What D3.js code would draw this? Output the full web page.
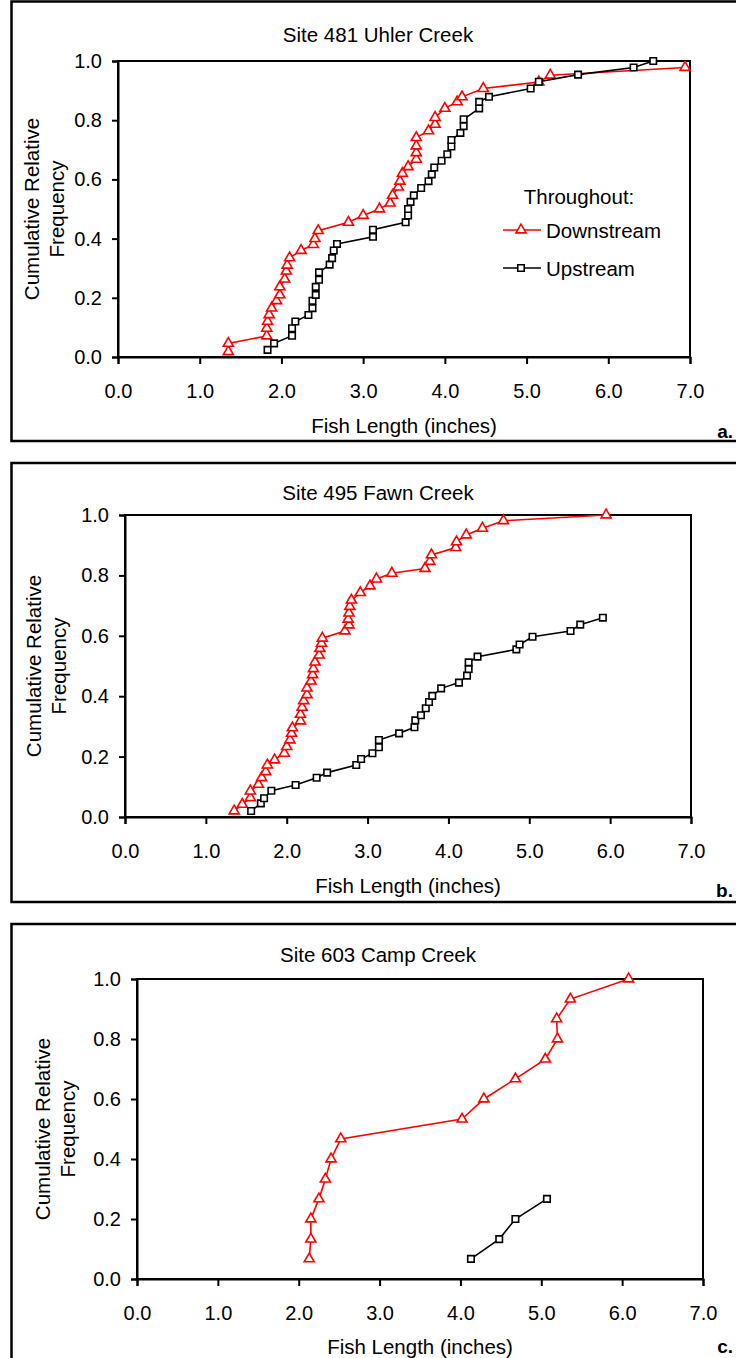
<!DOCTYPE html>
<html>
<head>
<meta charset="utf-8">
<script src="https://cdnjs.cloudflare.com/ajax/libs/d3/7.8.5/d3.min.js"></script>
<style>
body { margin: 0; background: #fff; }
text { font-family: "Liberation Sans", Arial, sans-serif; fill: #000; }
</style>
</head>
<body>
<div id="chart"></div>
<script>
// axis ticks and labels
var ticksX = [0, 1, 2, 3, 4, 5, 6, 7];
var ticksY = [0, 0.2, 0.4, 0.6, 0.8, 1.0];
var siteNames = ["Site 481 Uhler Creek", "Site 495 Fawn Creek", "Site 603 Camp Creek"];
var panelLetters = ["a.", "b.", "c."];
var seriesNames = ["Downstream", "Upstream"];
var legendTitle = "Throughout:";

// Site 481 Uhler Creek
var uhlerDownLength = [1.35, 1.35, 1.82, 1.82, 1.83, 1.85, 1.88, 1.94, 1.98, 1.98, 2.04, 2.06, 2.07, 2.1, 2.24, 2.39, 2.41, 2.45, 2.82, 3.0, 3.2, 3.33, 3.36, 3.43, 3.45, 3.48, 3.55, 3.65, 3.65, 3.65, 3.65, 3.8, 3.88, 3.88, 4.0, 4.15, 4.21, 4.47, 5.15, 5.29, 6.94];
var uhlerDownFreq = [0.018, 0.046, 0.071, 0.097, 0.12, 0.143, 0.165, 0.19, 0.21, 0.237, 0.263, 0.29, 0.31, 0.335, 0.36, 0.38, 0.4, 0.427, 0.455, 0.478, 0.5, 0.52, 0.546, 0.574, 0.594, 0.62, 0.643, 0.668, 0.69, 0.713, 0.741, 0.764, 0.786, 0.809, 0.84, 0.862, 0.879, 0.907, 0.929, 0.952, 0.978];
var uhlerUpLength = [1.83, 1.91, 2.13, 2.13, 2.17, 2.33, 2.38, 2.38, 2.42, 2.42, 2.46, 2.46, 2.59, 2.62, 2.64, 2.68, 3.12, 3.12, 3.52, 3.55, 3.55, 3.58, 3.62, 3.71, 3.8, 3.84, 3.87, 3.96, 4.03, 4.08, 4.08, 4.19, 4.23, 4.23, 4.42, 4.42, 4.54, 5.05, 5.15, 5.63, 6.31, 6.55];
var uhlerUpFreq = [0.024, 0.046, 0.072, 0.097, 0.12, 0.142, 0.165, 0.19, 0.21, 0.237, 0.261, 0.286, 0.312, 0.334, 0.36, 0.382, 0.406, 0.43, 0.455, 0.478, 0.5, 0.524, 0.546, 0.571, 0.594, 0.617, 0.64, 0.663, 0.685, 0.711, 0.733, 0.757, 0.78, 0.803, 0.84, 0.862, 0.879, 0.907, 0.93, 0.954, 0.978, 1.0];

// Site 495 Fawn Creek
var fawnDownLength = [1.35, 1.45, 1.55, 1.55, 1.65, 1.69, 1.74, 1.76, 1.85, 1.97, 2.0, 2.04, 2.06, 2.07, 2.17, 2.17, 2.19, 2.21, 2.25, 2.25, 2.3, 2.32, 2.33, 2.35, 2.4, 2.41, 2.43, 2.44, 2.72, 2.77, 2.76, 2.77, 2.78, 2.8, 2.91, 3.03, 3.11, 3.3, 3.71, 3.77, 3.79, 4.09, 4.1, 4.22, 4.42, 4.68, 5.95];
var fawnDownFreq = [0.02, 0.042, 0.064, 0.086, 0.108, 0.13, 0.15, 0.172, 0.189, 0.211, 0.233, 0.255, 0.277, 0.295, 0.318, 0.34, 0.363, 0.385, 0.405, 0.427, 0.45, 0.471, 0.491, 0.513, 0.536, 0.558, 0.575, 0.592, 0.616, 0.636, 0.655, 0.675, 0.697, 0.718, 0.743, 0.765, 0.788, 0.807, 0.823, 0.846, 0.868, 0.892, 0.911, 0.934, 0.956, 0.981, 1.0];
var fawnUpLength = [1.56, 1.68, 1.72, 1.81, 2.11, 2.37, 2.5, 2.86, 2.92, 3.06, 3.14, 3.14, 3.39, 3.58, 3.59, 3.66, 3.72, 3.76, 3.8, 3.91, 4.13, 4.23, 4.25, 4.25, 4.36, 4.84, 4.88, 5.04, 5.51, 5.63, 5.91];
var fawnUpFreq = [0.02, 0.045, 0.062, 0.087, 0.106, 0.13, 0.147, 0.172, 0.192, 0.211, 0.231, 0.255, 0.277, 0.297, 0.32, 0.337, 0.36, 0.381, 0.401, 0.426, 0.445, 0.468, 0.49, 0.512, 0.531, 0.555, 0.571, 0.597, 0.616, 0.637, 0.66];

// Site 603 Camp Creek
var campDownLength = [2.13, 2.15, 2.15, 2.25, 2.33, 2.4, 2.52, 4.02, 4.29, 4.68, 5.05, 5.2, 5.19, 5.36, 6.08];
var campDownFreq = [0.067, 0.133, 0.2, 0.267, 0.333, 0.4, 0.467, 0.533, 0.6, 0.667, 0.733, 0.8, 0.867, 0.933, 1.0];
var campUpLength = [4.13, 4.48, 4.68, 5.07];
var campUpFreq = [0.067, 0.133, 0.2, 0.267];

var colors = { down: "#ff0000", up: "#000000" };

function toPoints(lengths, freqs) {
    return lengths.map(function (d, i) { return { x: d, y: freqs[i] }; });
}

function drawPanel(svg, p) {
    var x = d3.scaleLinear().domain([0, 7]).range([p.left, p.right]);
    var y = d3.scaleLinear().domain([0, 1]).range([p.bottom, p.top]);

    // outer panel frame (right side runs off the page)
    svg.append("rect")
        .attr("x", 11.5).attr("y", p.boxTop)
        .attr("width", 760).attr("height", p.boxBottom - p.boxTop)
        .attr("fill", "none").attr("stroke", "#000").attr("stroke-width", 2.5);

    svg.append("text")
        .attr("x", 378).attr("y", p.titleY)
        .attr("text-anchor", "middle").attr("dominant-baseline", "central")
        .style("font-size", "20.5px")
        .text(p.title);

    // plot area border
    svg.append("rect")
        .attr("x", p.left).attr("y", p.top)
        .attr("width", p.right - p.left).attr("height", p.bottom - p.top)
        .attr("fill", "none").attr("stroke", "#000").attr("stroke-width", 2);

    var xAxis = svg.append("g")
        .attr("transform", "translate(0," + p.bottom + ")")
        .call(d3.axisBottom(x).tickValues(ticksX).tickSize(7).tickPadding(20).tickFormat(d3.format(".1f")));
    var yAxis = svg.append("g")
        .attr("transform", "translate(" + p.left + ",0)")
        .call(d3.axisLeft(y).tickValues(ticksY).tickSize(6).tickPadding(10).tickFormat(d3.format(".1f")));
    [xAxis, yAxis].forEach(function (g) {
        g.select(".domain").attr("stroke-width", 2);
        g.selectAll(".tick line").attr("stroke-width", 2);
        g.selectAll("text").style("font-size", "20px").attr("font-family", null);
    });

    svg.append("text")
        .attr("x", (p.left + p.right) / 2).attr("y", p.xTitleY)
        .attr("text-anchor", "middle").attr("dominant-baseline", "central")
        .style("font-size", "20.5px")
        .text("Fish Length (inches)");

    var yt = svg.append("text")
        .attr("transform", "translate(" + p.yTitleX + "," + ((p.top + p.bottom) / 2) + ") rotate(-90)")
        .attr("text-anchor", "middle")
        .style("font-size", "20.5px");
    yt.append("tspan").attr("x", 0).attr("dy", "0.35em").text("Cumulative Relative");
    yt.append("tspan").attr("x", 0).attr("dy", "1.2em").text("Frequency");

    svg.append("text")
        .attr("x", 733).attr("y", p.letterY)
        .attr("text-anchor", "end").attr("dominant-baseline", "central")
        .style("font-size", "19px").style("font-weight", "bold")
        .text(p.letter);

    var line = d3.line().x(function (d) { return x(d.x); }).y(function (d) { return y(d.y); });
    var series = [
        { pts: toPoints(p.downLength, p.downFreq), color: colors.down, shape: d3.symbolTriangle, size: 44 },
        { pts: toPoints(p.upLength, p.upFreq), color: colors.up, shape: d3.symbolSquare, size: 42 }
    ];
    series.forEach(function (s) {
        svg.append("path").datum(s.pts)
            .attr("d", line)
            .attr("fill", "none").attr("stroke", s.color).attr("stroke-width", 1.6);
        svg.append("g").selectAll("path").data(s.pts).enter().append("path")
            .attr("d", d3.symbol().type(s.shape).size(s.size))
            .attr("transform", function (d) { return "translate(" + x(d.x) + "," + y(d.y) + ")"; })
            .attr("fill", "#fff").attr("stroke", s.color).attr("stroke-width", 1.6);
    });

    if (p.legend) {
        var lg = svg.append("g").attr("transform", "translate(503,196)");
        lg.append("text").attr("x", 76).attr("y", 0)
            .attr("text-anchor", "middle").attr("dominant-baseline", "central")
            .style("font-size", "20.5px").text(legendTitle);
        series.forEach(function (s, i) {
            var row = lg.append("g").attr("transform", "translate(0," + (34 + i * 38) + ")");
            row.append("line").attr("x1", 0).attr("x2", 38)
                .attr("stroke", s.color).attr("stroke-width", 1.6);
            row.append("path")
                .attr("d", d3.symbol().type(s.shape).size(s.size))
                .attr("transform", "translate(18,0)")
                .attr("fill", "#fff").attr("stroke", s.color).attr("stroke-width", 1.6);
            row.append("text").attr("x", 43).attr("y", 0)
                .attr("dominant-baseline", "central")
                .style("font-size", "20.5px").text(seriesNames[i]);
        });
    }
}

var svg = d3.select("#chart").append("svg")
    .attr("width", 736).attr("height", 1358);

var panels = [
    { title: siteNames[0], letter: panelLetters[0], boxTop: 1.5, boxBottom: 441, titleY: 34,
      left: 118, right: 690, top: 61, bottom: 357, xTitleY: 425, letterY: 431, yTitleX: 32, legend: true,
      downLength: uhlerDownLength, downFreq: uhlerDownFreq, upLength: uhlerUpLength, upFreq: uhlerUpFreq },
    { title: siteNames[1], letter: panelLetters[1], boxTop: 463, boxBottom: 902, titleY: 492,
      left: 125, right: 691, top: 515, bottom: 817, xTitleY: 885, letterY: 890, yTitleX: 34, legend: false,
      downLength: fawnDownLength, downFreq: fawnDownFreq, upLength: fawnUpLength, upFreq: fawnUpFreq },
    { title: siteNames[2], letter: panelLetters[2], boxTop: 924, boxBottom: 1370, titleY: 954,
      left: 137, right: 703, top: 979, bottom: 1279, xTitleY: 1346, letterY: 1346, yTitleX: 43, legend: false,
      downLength: campDownLength, downFreq: campDownFreq, upLength: campUpLength, upFreq: campUpFreq }
];

panels.forEach(function (p) { drawPanel(svg, p); });
</script>
</body>
</html>
